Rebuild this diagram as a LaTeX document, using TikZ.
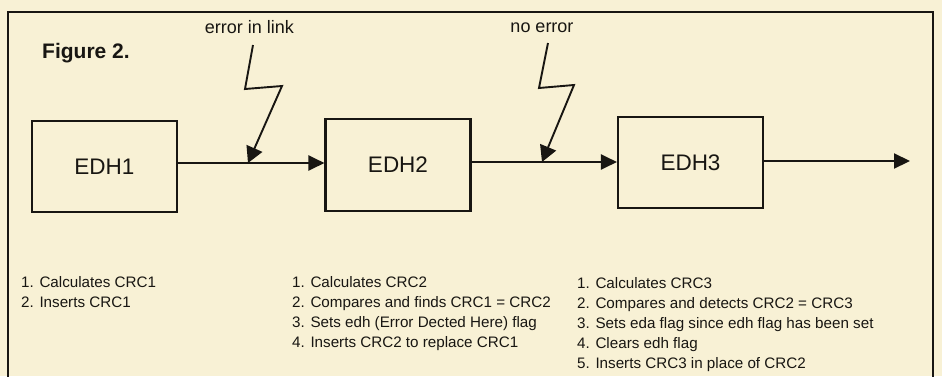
\documentclass[tikz,border=0pt]{standalone}
\usepackage{fontspec}
\setmainfont{Liberation Sans}
\usetikzlibrary{arrows.meta}
\definecolor{paper}{RGB}{248,241,213}
\definecolor{ink}{RGB}{24,22,18}
\tikzset{
  edhbox/.style={draw=ink, line width=2.1pt, minimum width=145pt, minimum height=91pt, inner sep=0pt,
    font=\fontsize{22.5}{26}\selectfont, text=ink},
  link/.style={draw=ink, line width=2.1pt, -{Triangle[length=16pt,width=15pt]}},
  bolt/.style={draw=ink, line width=1.9pt, line join=miter, -{Triangle[length=16pt,width=17pt]}},
  boltlabel/.style={anchor=base, inner sep=0pt, font=\fontsize{18}{22}\selectfont, text=ink},
  notes/.style={anchor=base west, inner sep=0pt, font=\fontsize{15.2}{20}\selectfont, text=ink},
  frame/.style={draw=ink, line width=2.2pt}
}
\begin{document}
\begin{tikzpicture}[x=1pt,y=-1pt]
\fill[paper] (0,0) rectangle (942,376);
\useasboundingbox (0,0) rectangle (942,376);
% frame (open at bottom)
\draw[frame] (8,380) -- (8,12) -- (933,12) -- (933,380);
% title
\node[anchor=base west, inner sep=0pt, font=\bfseries\fontsize{21}{25}\selectfont, text=ink] (title) at (42,58) {Figure 2.};
% boxes
\node[edhbox] (b1) at (104.5,166.5) {EDH1};
\node[edhbox, minimum height=92pt] (b2) at (398,165) {EDH2};
\node[edhbox] (b3) at (690.5,162.5) {EDH3};
% lightning tips and corners
\coordinate (t1) at (248,163);
\coordinate (t2) at (542,162);
\coordinate (t3) at (910,161);
\coordinate (s1) at (253,45);
\coordinate (c1a) at (245,89);
\coordinate (c1b) at (282,86);
\coordinate (s2) at (548,43);
\coordinate (c2a) at (539,88);
\coordinate (c2b) at (574,85);
% links
\draw[link] (b1.east |- t1) -- (b2.west |- t1);
\draw[link] (b2.east |- t2) -- (b3.west |- t2);
\draw[link] (b3.east |- t3) -- (t3);
% lightning bolts
\node[boltlabel] (e1) at (249.5,33) {error in link};
\node[boltlabel] (e2) at (542,32) {no error};
\draw[bolt] (s1) -- (c1a) -- (c1b) -- (t1);
\draw[bolt] (s2) -- (c2a) -- (c2b) -- (t2);
% notes
\node[notes] (n1) at (21,287) {\begin{tabular}[t]{@{}l@{}}1. Calculates CRC1\\2. Inserts CRC1\end{tabular}};
\node[notes] (n2) at (292,287) {\begin{tabular}[t]{@{}l@{}}1. Calculates CRC2\\2. Compares and finds CRC1 = CRC2\\3. Sets edh (Error Dected Here) flag\\4. Inserts CRC2 to replace CRC1\end{tabular}};
\node[notes] (n3) at (577,288) {\begin{tabular}[t]{@{}l@{}}1. Calculates CRC3\\2. Compares and detects CRC2 = CRC3\\3. Sets eda flag since edh flag has been set\\4. Clears edh flag\\5. Inserts CRC3 in place of CRC2\end{tabular}};
\end{tikzpicture}
\end{document}
